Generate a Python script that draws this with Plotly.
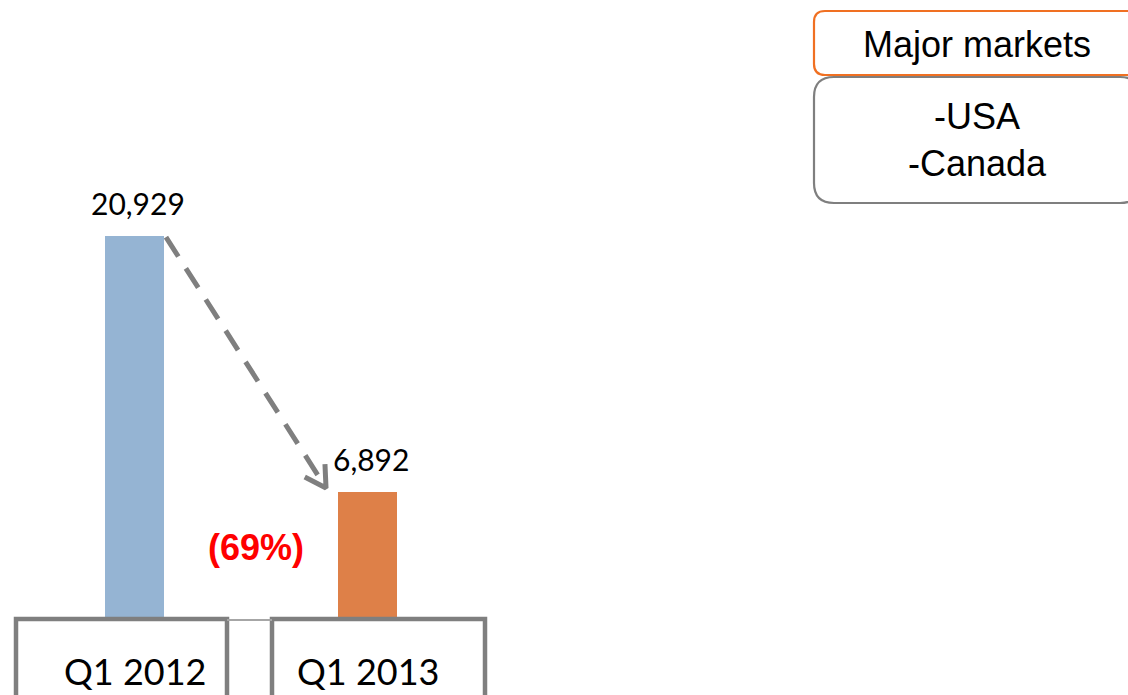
import math
import plotly.graph_objects as go

categories = ["Q1 2012", "Q1 2013"]
values = [20929, 6892]
value_labels = ["20,929", "6,892"]
change_label = "(69%)"
box_title = "Major markets"
box_items = ["-USA", "-Canada"]

bar_colors = ["#95B4D3", "#DE8048"]
GRAY = "#7F7F7F"

W, H = 1128, 695
BASE = 618                  # baseline row in px
B = H - BASE
PLOT_H = BASE
UNIT = 233.0                # px per category step
X0PX = 134.5                # px of category 0
YTOP = 20929 * PLOT_H / 382.0

xs = list(range(len(categories)))

fig = go.Figure()
fig.add_trace(go.Bar(
    x=xs, y=values, width=0.253,
    marker=dict(color=bar_colors, line=dict(width=0)),
    hoverinfo="skip",
))

# dashed arrow from top of first bar to second bar
arrow_x = [xs[0] + 0.135, xs[1] - 0.178]
arrow_y = [values[0] - 60, values[1] + 230]
fig.add_trace(go.Scatter(
    x=arrow_x, y=arrow_y, mode="lines",
    line=dict(color=GRAY, width=5, dash="23px,14px"),
    cliponaxis=False, hoverinfo="skip", showlegend=False,
))

# open chevron head, built in pixel space from the arrow direction
def to_px(x, y):
    return X0PX + x * UNIT, PLOT_H - y * PLOT_H / YTOP

def to_data(X, Y):
    return (X - X0PX) / UNIT, (PLOT_H - Y) * YTOP / PLOT_H

sx, sy = to_px(arrow_x[0], arrow_y[0])
ex, ey = to_px(arrow_x[1], arrow_y[1])
L = math.hypot(ex - sx, ey - sy)
bx, by = (sx - ex) / L, (sy - ey) / L
head_x, head_y = [], []
for sgn in (1, -1):
    a = math.radians(30) * sgn
    rx = bx * math.cos(a) - by * math.sin(a)
    ry = bx * math.sin(a) + by * math.cos(a)
    hx, hy = to_data(ex + 24 * rx, ey + 24 * ry)
    head_x.append(hx)
    head_y.append(hy)
fig.add_trace(go.Scatter(
    x=[head_x[0], arrow_x[1], head_x[1]], y=[head_y[0], arrow_y[1], head_y[1]],
    mode="lines", line=dict(color=GRAY, width=5),
    cliponaxis=False, hoverinfo="skip", showlegend=False,
))

def py(ry):
    return (PLOT_H - ry) / PLOT_H

def px(rx):
    return rx / W

def dx(rx):
    return (rx - X0PX) / UNIT

shapes = []
box_x = [(dx(16), dx(227)), (dx(272), dx(485))]
for (a, b) in box_x:
    shapes.append(dict(type="rect", xref="x", yref="paper", x0=a, x1=b,
                       y0=py(619), y1=py(730),
                       line=dict(color=GRAY, width=4.5), fillcolor="rgba(0,0,0,0)"))
shapes.append(dict(type="line", xref="x", yref="paper", x0=box_x[0][1], x1=box_x[1][0],
                   y0=py(620), y1=py(620), line=dict(color="#A6A6A6", width=2)))

def rounded(x0, y0, x1, y1, r):
    def P(x, y):
        return f"{px(x):.5f},{py(y):.5f}"
    return (f"M {P(x0+r, y0)} L {P(x1-r, y0)} Q {P(x1, y0)} {P(x1, y0+r)} "
            f"L {P(x1, y1-r)} Q {P(x1, y1)} {P(x1-r, y1)} L {P(x0+r, y1)} "
            f"Q {P(x0, y1)} {P(x0, y1-r)} L {P(x0, y0+r)} Q {P(x0, y0)} {P(x0+r, y0)} Z")

shapes.append(dict(type="path", xref="paper", yref="paper",
                   path=rounded(814, 11, 1140, 75, 11),
                   line=dict(color="#F07022", width=2.2), fillcolor="white"))
shapes.append(dict(type="path", xref="paper", yref="paper",
                   path=rounded(814, 77, 1140, 203, 20),
                   line=dict(color=GRAY, width=2.2), fillcolor="white"))

annotations = []
for i, c in enumerate(categories):
    annotations.append(dict(x=xs[i], y=values[i], xref="x", yref="y",
                            text=value_labels[i], showarrow=False,
                            xanchor="center", yanchor="middle", xshift=3, yshift=33,
                            font=dict(family="Lato", size=30, color="black")))
    annotations.append(dict(x=xs[i], y=py(695), xref="x", yref="paper",
                            text=c, showarrow=False, xanchor="center", yanchor="bottom",
                            font=dict(family="Lato", size=36, color="black")))
annotations.append(dict(x=dx(256), y=py(547), xref="x", yref="paper",
                        text=f"<b>{change_label}</b>", showarrow=False,
                        xanchor="center", yanchor="middle",
                        font=dict(family="Liberation Sans", size=36, color="#FF0000")))
annotations.append(dict(x=px(977), y=py(45), xref="paper", yref="paper",
                        text=box_title, showarrow=False, xanchor="center", yanchor="middle",
                        font=dict(family="Liberation Sans", size=36, color="black")))
annotations.append(dict(x=px(977), y=py(140), xref="paper", yref="paper",
                        text="<br>".join(box_items), showarrow=False,
                        xanchor="center", yanchor="middle",
                        font=dict(family="Liberation Sans", size=36, color="black")))

fig.update_layout(
    width=W, height=H,
    margin=dict(l=0, r=0, t=0, b=B, pad=0),
    paper_bgcolor="white", plot_bgcolor="white",
    showlegend=False,
    bargap=0,
    xaxis=dict(range=[-X0PX / UNIT, (W - X0PX) / UNIT], visible=False, fixedrange=True),
    yaxis=dict(range=[0, YTOP], visible=False, fixedrange=True),
    shapes=shapes, annotations=annotations,
)

fig.write_html("out.html", config={"displayModeBar": False},
               post_script="document.body.style.margin='0';document.body.style.overflow='hidden';")
